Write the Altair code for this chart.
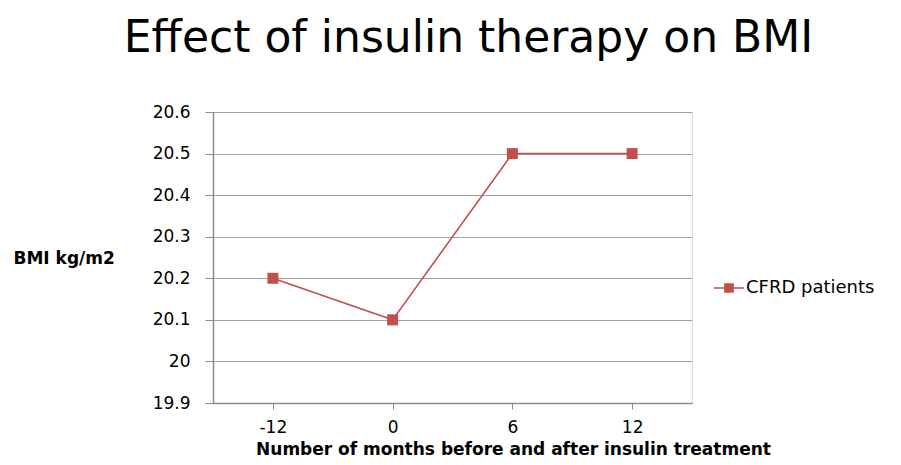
import altair as alt
import pandas as pd

months = ["-12", "0", "6", "12"]
bmi = [20.2, 20.1, 20.5, 20.5]
series = ["CFRD patients"] * 4
y_ticks = [19.9, 20.0, 20.1, 20.2, 20.3, 20.4, 20.5, 20.6]

df = pd.DataFrame({"month": months, "bmi": bmi, "series": series})
red = "#C0504D"
font = "DejaVu Sans"

legend_path = "M-1,0H1M-0.27,-0.27H0.27V0.27H-0.27Z"

chart = alt.Chart(df).mark_line(
    strokeWidth=1.6,
    point=alt.OverlayMarkDef(shape="square", size=120, filled=True, color=red, opacity=1),
).encode(
    x=alt.X(
        "month:O",
        sort=months,
        scale=alt.Scale(type="point", padding=0.5),
        axis=alt.Axis(
            title="Number of months before and after insulin treatment",
            labelAngle=0,
            labelFont=font,
            labelFontSize=17,
            labelColor="black",
            labelPadding=10,
            tickSize=6,
            tickColor="#8c8c8c",
            domainColor="#8c8c8c",
            domainWidth=1.5,
            grid=False,
            titleFont=font,
            titleFontSize=17,
            titleFontWeight="bold",
            titleColor="black",
            titleX=300,
            titleY=46,
            titleBaseline="middle",
        ),
    ),
    y=alt.Y(
        "bmi:Q",
        scale=alt.Scale(domain=[19.9, 20.6], nice=False, zero=False),
        axis=alt.Axis(
            values=y_ticks,
            format="~g",
            title="BMI kg/m2",
            titleAngle=0,
            titleAlign="left",
            titleBaseline="middle",
            titleX=-200,
            titleY=146,
            titleFont=font,
            titleFontSize=17,
            titleFontWeight="bold",
            titleColor="black",
            labelFont=font,
            labelFontSize=17,
            labelColor="black",
            labelPadding=15,
            tickSize=8,
            tickColor="#8c8c8c",
            domainColor="#8c8c8c",
            domainWidth=1.5,
            gridColor="#a0a0a0",
            gridWidth=1.2,
        ),
    ),
    color=alt.Color(
        "series:N",
        scale=alt.Scale(range=[red]),
        legend=alt.Legend(
            title=None,
            orient="none",
            legendX=500,
            legendY=160,
            symbolType=legend_path,
            symbolSize=900,
            symbolFillColor=red,
            symbolStrokeColor=red,
            symbolStrokeWidth=1.6,
            labelFont=font,
            labelFontSize=18,
            labelColor="black",
            labelOffset=1,
            padding=0,
        ),
    ),
).properties(
    width=479,
    height=291,
    autosize=alt.AutoSizeParams(type="none"),
    padding={"left": 205, "top": 104, "right": 201, "bottom": 54},
    title=alt.TitleParams(
        "Effect of insulin therapy on BMI",
        font=font,
        fontSize=44,
        fontWeight="normal",
        color="black",
        anchor="middle",
        dx=16,
        offset=42,
    ),
).configure_view(stroke=None).configure(background="white")

chart.save("out.html", embed_options={"renderer": "svg", "actions": False})
